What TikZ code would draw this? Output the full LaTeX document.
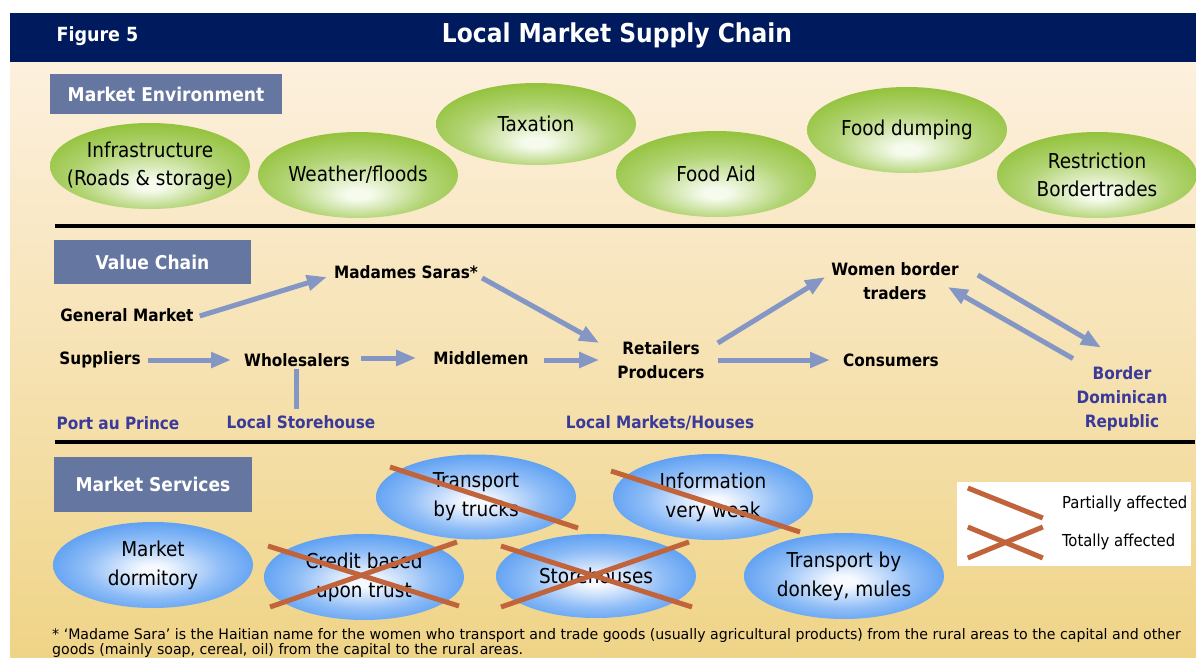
\documentclass[tikz,border=0pt]{standalone}
\usepackage{fontspec}
\setmainfont{DejaVu Sans Condensed}
\usetikzlibrary{shapes.geometric,arrows.meta,calc}
\definecolor{navy}{HTML}{001A5E}
\definecolor{lblbox}{HTML}{6577A0}
\definecolor{arrc}{HTML}{8496C4}
\definecolor{placec}{HTML}{3A3A9A}
\definecolor{crossc}{HTML}{C1643C}
\definecolor{gc}{HTML}{F6FBEE}
\definecolor{ge}{HTML}{8ABD2C}
\definecolor{bc}{HTML}{F6F9FF}
\definecolor{be}{HTML}{3B8CF0}
\definecolor{bgtop}{HTML}{FDF0DE}
\definecolor{bgbot}{HTML}{EFD487}
\pgfdeclareradialshading{greenball}{\pgfpoint{0bp}{-12bp}}{color(0bp)=(gc); color(3bp)=(gc); color(18bp)=(ge!62!gc); color(30bp)=(ge!92!gc); color(40bp)=(ge); color(50bp)=(ge)}
\pgfdeclareradialshading{blueball}{\pgfpoint{0bp}{-3bp}}{color(0bp)=(bc); color(3bp)=(bc); color(17bp)=(be!55!bc); color(29bp)=(be!88!bc); color(40bp)=(be); color(50bp)=(be)}
\tikzset{
  envell/.style={ellipse, shading=greenball, minimum width=200, minimum height=86, inner ysep=0pt, inner xsep=-20pt, align=center, font=\fontsize{20.5}{28}\selectfont},
  svcell/.style={ellipse, shading=blueball, minimum width=200, minimum height=86, inner ysep=0pt, inner xsep=-20pt, align=center, font=\fontsize{20.5}{29}\selectfont},
  secbox/.style={fill=lblbox, text=white, font=\bfseries\fontsize{19}{22}\selectfont, inner sep=0pt, align=center},
  vcnode/.style={font=\bfseries\fontsize{17}{24}\selectfont, align=center, inner sep=2pt},
  placenode/.style={text=placec, font=\bfseries\fontsize{17}{24}\selectfont, align=center, inner sep=2pt},
  arr/.style={draw=arrc, line width=5pt, -{Triangle[length=20pt,width=15pt]}},
  plainarr/.style={draw=arrc, line width=5pt},
  crossline/.style={draw=crossc, line width=5pt},
  rule/.style={draw=black, line width=4pt},
  legtext/.style={anchor=west, font=\fontsize{16.5}{18}\selectfont, inner sep=0pt},
  fntext/.style={anchor=west, font=\fontsize{14.5}{16}\selectfont, inner sep=0pt},
}
\begin{document}
\begin{tikzpicture}[x=1pt,y=-1pt]
\useasboundingbox (0,0) rectangle (1196,658);
% background
\fill[white] (0,0) rectangle (1196,658);
\shade[top color=bgtop, bottom color=bgbot] (10,62) rectangle (1196,658);
\fill[navy] (10,13) rectangle (1196,62);
\node[text=white, font=\bfseries\fontsize{19.5}{24}\selectfont, anchor=west] (fig) at (53,36) {Figure 5};
\node[text=white, font=\bfseries\fontsize{26}{32}\selectfont] (title) at (617,35) {Local Market Supply Chain};
% rules
\draw[rule] (55,226) -- (1195,226);
\draw[rule] (55,442) -- (1195,442);
% section labels
\node[secbox, minimum width=232, minimum height=40] (menv) at (166,94) {Market Environment};
\node[secbox, minimum width=197, minimum height=44] (vchain) at (152.5,262) {Value Chain};
\node[secbox, minimum width=198, minimum height=55] (msvc) at (153,484) {Market Services};
% environment ellipses
\node[envell] (infra) at (150,166) {Infrastructure\\(Roads \& storage)};
\node[envell] (weather) at (358,175) {Weather/floods};
\node[envell, minimum height=82] (tax) at (536,124) {Taxation};
\node[envell] (aid) at (716,174) {Food Aid};
\node[envell] (dump) at (907,130) {Food dumping};
\node[envell] (restr) at (1097,175) {Restriction\\Bordertrades};
% value chain
\node[vcnode] (ms) at (406,272) {Madames Saras*};
\node[vcnode] (gm) at (127,315) {General Market};
\node[vcnode] (sup) at (100,360) {Suppliers};
\node[vcnode] (who) at (297,360) {Wholesalers};
\node[vcnode] (mid) at (481,358) {Middlemen};
\node[vcnode] (ret) at (661,360) {Retailers\\Producers};
\node[vcnode] (wom) at (895,281) {Women border\\traders};
\node[vcnode] (con) at (891,360) {Consumers};
\node[placenode] (bdr) at (1122,399) {Border\\Dominican\\Republic};
\node[placenode] (pap) at (118,423) {Port au Prince};
\node[placenode] (sto) at (301,422) {Local Storehouse};
\node[placenode] (lmh) at (660,423) {Local Markets/Houses};
% arrows
\draw[arr] ($(gm.east)+(4,1)$) -- ($(ms.west)+(-5,5)$);
\draw[arr] ($(ms.east)+(2,6)$) -- ($(ret.west)+(-16,-17)$);
\draw[arr] ($(sup.east)+(5,0)$) -- ($(who.west)+(-11,0)$);
\draw[arr] ($(who.east)+(9,-2)$) -- ($(mid.west)+(-15,0)$);
\draw[arr] ($(mid.east)+(13,2)$) -- ($(ret.west)+(-16,0)$);
\draw[arr] ($(ret.east)+(11,-17)$) -- ($(wom.west)+(-4,-4)$);
\draw[arr] ($(ret.east)+(11,0)$) -- ($(con.west)+(-11,0)$);
\draw[arr] ($(wom.east)+(17,-6)$) -- ($(bdr.north)+(-21,-17)$);
\draw[arr] ($(bdr.north)+(-49,-6)$) -- ($(wom.east)+(-13,6)$);
\draw[plainarr] ($(who.south)+(-1,0)$) -- ($(who.south |- sto.north)+(-1,-4)$);
% services ellipses
\node[svcell] (dorm) at (153,565) {Market\\dormitory};
\node[svcell, minimum height=85] (truck) at (476,497) {Transport\\by trucks};
\node[svcell] (info) at (713,497) {Information\\very weak};
\node[svcell] (credit) at (364,577) {Credit based\\upon trust};
\node[svcell, minimum height=84] (store) at (596,576) {Storehouses};
\node[svcell] (donkey) at (844,576) {Transport by\\donkey, mules};
% crosses
\draw[crossline] ($(truck.center)+(-86,-30)$) -- ($(truck.center)+(102,31)$);
\draw[crossline] ($(info.center)+(-102,-26)$) -- ($(info.center)+(87,35)$);
\draw[crossline] ($(credit.center)+(-96,-31)$) -- ($(credit.center)+(95,29)$);
\draw[crossline] ($(credit.center)+(-94,30)$) -- ($(credit.center)+(93,-35)$);
\draw[crossline] ($(store.center)+(-95,-30)$) -- ($(store.center)+(96,31)$);
\draw[crossline] ($(store.center)+(-95,31)$) -- ($(store.center)+(93,-34)$);
% legend
\node[fill=white, minimum width=234, minimum height=84, inner sep=0pt] (legend) at (1074,524) {};
\draw[crossline] ($(legend.west)+(11,-36)$) -- ($(legend.west)+(86,-6)$);
\draw[crossline] ($(legend.west)+(11,34)$) -- ($(legend.west)+(86,3)$);
\draw[crossline] ($(legend.west)+(11,3)$) -- ($(legend.west)+(86,34)$);
\node[legtext] (lp) at (1062,504) {Partially affected};
\node[legtext] (lt) at (1062,542) {Totally affected};
% footnote
\node[fntext] (fn1) at (52,635) {\scalebox{1.085}[1]{* `Madame Sara' is the Haitian name for the women who transport and trade goods (usually agricultural products) from the rural areas to the capital and other}};
\node[fntext] (fn2) at (52,650) {\scalebox{1.085}[1]{goods (mainly soap, cereal, oil) from the capital to the rural areas.}};
\end{tikzpicture}
\end{document}
